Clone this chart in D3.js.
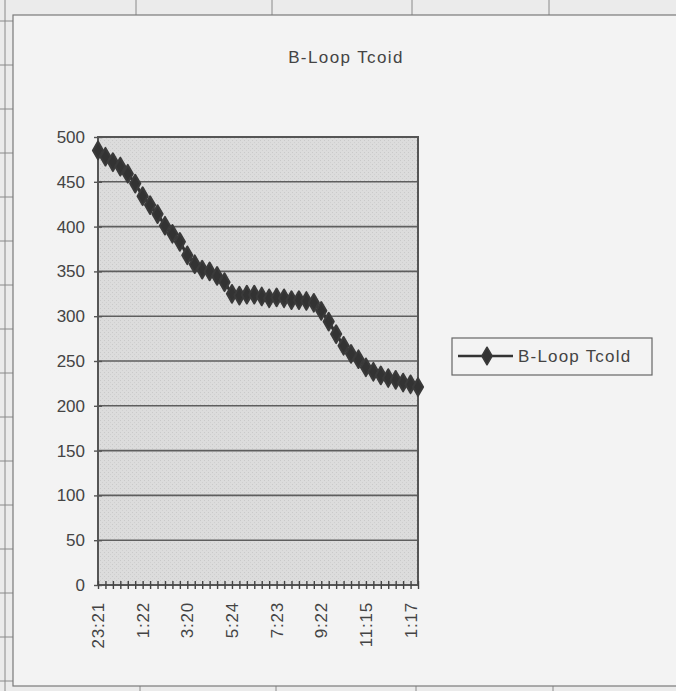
<!DOCTYPE html>
<html>
<head>
<meta charset="utf-8">
<script src="https://cdn.jsdelivr.net/npm/d3@7"></script>
<style>
  body { margin: 0; background: #ebebeb; }
  text { font-family: "Liberation Sans", Arial, sans-serif; fill: #444; }
</style>
</head>
<body>
<div id="chart"></div>
<script>
var svgWidth = 676;
var svgHeight = 691;

// plot area box (Excel style)
var plot = { left: 98, right: 418, top: 137, bottom: 585 };

// readings, one every ~20 min
var times = ["23:21", "23:41", "0:01", "0:21", "0:41", "1:01", "1:22", "1:42", "2:02", "2:22",
  "2:42", "3:00", "3:20", "3:40", "4:00", "4:20", "4:40", "5:04", "5:24", "5:44",
  "6:04", "6:24", "6:44", "7:03", "7:23", "7:43", "8:03", "8:23", "8:43", "9:02",
  "9:22", "9:42", "10:02", "10:22", "10:42", "10:55", "11:15", "11:35", "11:55", "12:15",
  "12:35", "12:57", "1:17", "1:37"];

var tcold = [485, 478, 472, 467, 459, 448, 434, 424, 414, 401,
  392, 383, 368, 358, 352, 350, 345, 338, 325, 323,
  324, 324, 322, 320, 321, 320, 318, 318, 317, 315,
  306, 294, 280, 267, 258, 252, 243, 238, 234, 231,
  229, 226, 224, 221];

var timeLabels = ["23:21", "1:22", "3:20", "5:24", "7:23", "9:22", "11:15", "1:17"];
var yTicks = [0, 50, 100, 150, 200, 250, 300, 350, 400, 450, 500];

var seriesName = "B-Loop Tcold";
var chartTitle = "B-Loop Tcoid";

var svg = d3.select("#chart")
  .append("svg")
  .attr("width", svgWidth)
  .attr("height", svgHeight);

// stipple fill for the plot area
var defs = svg.append("defs");
var pat = defs.append("pattern")
  .attr("id", "stipple")
  .attr("width", 4)
  .attr("height", 4)
  .attr("patternUnits", "userSpaceOnUse");
pat.append("rect").attr("width", 4).attr("height", 4).attr("fill", "#dcdcdc");
pat.append("rect").attr("x", 0).attr("y", 0).attr("width", 1).attr("height", 1).attr("fill", "#c9c9c9");
pat.append("rect").attr("x", 2).attr("y", 2).attr("width", 1).attr("height", 1).attr("fill", "#cfcfcf");

// spreadsheet lines around the chart object
var sheet = svg.append("g").attr("stroke", "#8a8a8a").attr("stroke-width", 1);
[136, 272, 412, 549].forEach(function(cx) {
  sheet.append("line").attr("x1", cx).attr("x2", cx).attr("y1", 0).attr("y2", 15);
  sheet.append("line").attr("x1", cx + 4).attr("x2", cx + 4).attr("y1", 686).attr("y2", 691);
});
sheet.append("line").attr("x1", 5).attr("x2", 5).attr("y1", 0).attr("y2", 691);
d3.range(21, 691, 44).forEach(function(ry) {
  sheet.append("line").attr("x1", 0).attr("x2", 13).attr("y1", ry).attr("y2", ry);
});

// chart object
svg.append("rect")
  .attr("x", 13)
  .attr("y", 15)
  .attr("width", 700)
  .attr("height", 671)
  .attr("fill", "#f3f3f3")
  .attr("stroke", "#7a7a7a")
  .attr("stroke-width", 1.2);

svg.append("text")
  .attr("x", 346)
  .attr("y", 63)
  .attr("text-anchor", "middle")
  .attr("font-size", 17)
  .attr("letter-spacing", 1.4)
  .text(chartTitle);

// scales
var xScale = d3.scalePoint()
  .domain(times)
  .range([plot.left, plot.right]);

var yScale = d3.scaleLinear()
  .domain([0, 500])
  .range([plot.bottom, plot.top]);

var chartGroup = svg.append("g");

chartGroup.append("rect")
  .attr("x", plot.left)
  .attr("y", plot.top)
  .attr("width", plot.right - plot.left)
  .attr("height", plot.bottom - plot.top)
  .attr("fill", "url(#stipple)");

// gridlines
chartGroup.append("g")
  .selectAll("line")
  .data(yTicks.slice(1, -1))
  .enter()
  .append("line")
  .attr("x1", plot.left)
  .attr("x2", plot.right)
  .attr("y1", d => yScale(d))
  .attr("y2", d => yScale(d))
  .attr("stroke", "#5e5e5e")
  .attr("stroke-width", 1.6);

chartGroup.append("rect")
  .attr("x", plot.left)
  .attr("y", plot.top)
  .attr("width", plot.right - plot.left)
  .attr("height", plot.bottom - plot.top)
  .attr("fill", "none")
  .attr("stroke", "#555")
  .attr("stroke-width", 2);

// y axis: cross ticks + labels
var leftAxis = d3.axisLeft(yScale)
  .tickValues(yTicks)
  .tickSizeInner(4)
  .tickSizeOuter(0)
  .tickPadding(9);

var yAxis = chartGroup.append("g")
  .attr("transform", `translate(${plot.left}, 0)`)
  .call(leftAxis);
yAxis.select(".domain").remove();
yAxis.selectAll("line").attr("x2", -4).attr("x1", 4).attr("stroke", "#555").attr("stroke-width", 1.4);
yAxis.selectAll("text").attr("font-size", 17).attr("fill", "#444");

// x axis: a tick at every reading, label every 6th
var bottomAxis = d3.axisBottom(xScale)
  .tickSizeInner(4)
  .tickSizeOuter(0)
  .tickFormat("");

var xAxis = chartGroup.append("g")
  .attr("transform", `translate(0, ${plot.bottom})`)
  .call(bottomAxis);
xAxis.select(".domain").remove();
xAxis.selectAll("line").attr("y1", -4).attr("y2", 4).attr("stroke", "#444").attr("stroke-width", 1.4);

chartGroup.append("g")
  .selectAll("text")
  .data(times.filter(d => timeLabels.indexOf(d) >= 0))
  .enter()
  .append("text")
  .attr("transform", d => `translate(${xScale(d)}, 602) rotate(-90)`)
  .attr("text-anchor", "end")
  .attr("dy", "0.35em")
  .attr("font-size", 17)
  .attr("letter-spacing", 0.8)
  .text(d => d);

// series
var line = d3.line()
  .x((d, i) => xScale(times[i]))
  .y(d => yScale(d));

chartGroup.append("path")
  .datum(tcold)
  .attr("d", line)
  .attr("fill", "none")
  .attr("stroke", "#333")
  .attr("stroke-width", 3);

var diamond = d3.symbol().type(d3.symbolDiamond).size(90);

chartGroup.append("g")
  .selectAll("path")
  .data(tcold)
  .enter()
  .append("path")
  .attr("d", diamond)
  .attr("transform", (d, i) => `translate(${xScale(times[i])}, ${yScale(d)})`)
  .attr("fill", "#333")
  .attr("stroke", "#3a3a3a")
  .attr("stroke-width", 2)
  .attr("stroke-linejoin", "round");

// legend
var legend = svg.append("g");
legend.append("rect")
  .attr("x", 452)
  .attr("y", 338)
  .attr("width", 200)
  .attr("height", 37)
  .attr("fill", "#f3f3f3")
  .attr("stroke", "#666")
  .attr("stroke-width", 1.2);
legend.append("line")
  .attr("x1", 458)
  .attr("x2", 513)
  .attr("y1", 356)
  .attr("y2", 356)
  .attr("stroke", "#333")
  .attr("stroke-width", 2.5);
legend.append("path")
  .attr("d", diamond)
  .attr("transform", "translate(487, 356)")
  .attr("fill", "#333")
  .attr("stroke", "#3a3a3a")
  .attr("stroke-width", 1.5)
  .attr("stroke-linejoin", "round");
legend.append("text")
  .attr("x", 518)
  .attr("y", 356)
  .attr("dy", "0.35em")
  .attr("font-size", 17)
  .attr("letter-spacing", 1.2)
  .text(seriesName);
</script>
</body>
</html>
